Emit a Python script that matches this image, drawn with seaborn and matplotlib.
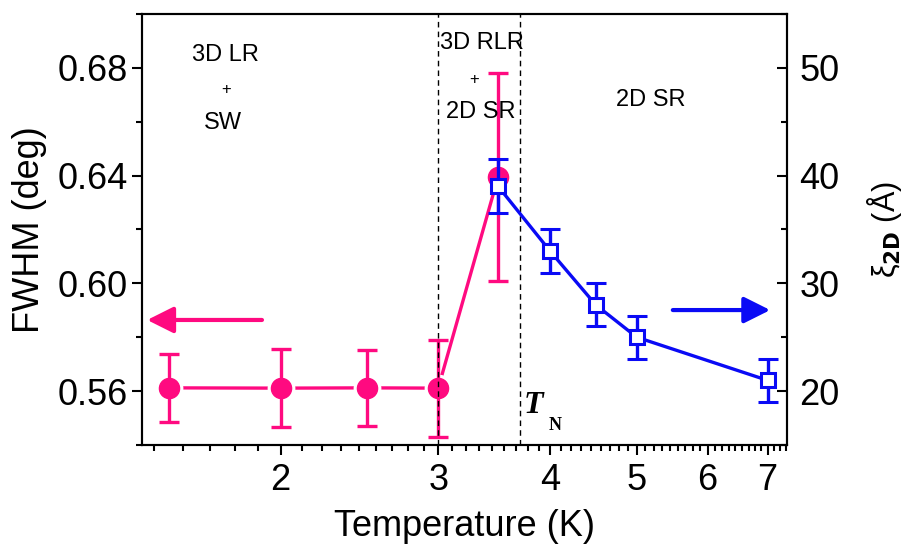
import numpy as np
import pandas as pd
import matplotlib
matplotlib.use("Agg")
import matplotlib.pyplot as plt
import seaborn as sns
from matplotlib.ticker import FixedLocator, FixedFormatter, NullFormatter, MultipleLocator, FormatStrFormatter

# ---- data ----
temp_fwhm = [1.5, 2.0, 2.5, 3.0, 3.5]
fwhm = [0.5612, 0.5611, 0.5612, 0.5611, 0.6395]
fwhm_err = [0.0125, 0.0145, 0.014, 0.018, 0.0385]

temp_xi = [3.5, 4.0, 4.5, 5.0, 7.0]
xi_2d = [39.0, 33.0, 28.0, 25.0, 21.0]
xi_err = [2.5, 2.0, 2.0, 2.0, 2.0]

x_major = [2, 3, 4, 5, 6, 7]
x_major_labels = ['2', '3', '4', '5', '6', '7']
region_lines = [3.0, 3.7]

pink = '#FF0A80'
blue = '#0A0AF5'

sns.set_style('ticks', {'axes.edgecolor': 'black', 'xtick.color': 'black', 'ytick.color': 'black',
                        'text.color': 'black', 'axes.labelcolor': 'black'})
plt.rcParams['font.family'] = ['Liberation Sans', 'DejaVu Sans']
plt.rcParams['axes.linewidth'] = 1.5

df_fwhm = pd.DataFrame({'T': temp_fwhm, 'FWHM': fwhm})
df_xi = pd.DataFrame({'T': temp_xi, 'xi': xi_2d})

fig = plt.figure(figsize=(9.15, 5.48), dpi=100)
ax = fig.add_axes([0.1552, 0.188, 0.7049, 0.7866])
ax.set_xscale('log')

# FWHM (left axis)
sns.lineplot(data=df_fwhm, x='T', y='FWHM', ax=ax, color=pink, lw=2.4, zorder=1)
ax.plot(temp_fwhm, fwhm, 'o', ms=19, color='white', zorder=2)
ax.errorbar(temp_fwhm, fwhm, yerr=fwhm_err, fmt='o', ms=14.5, color=pink, ecolor=pink,
            elinewidth=2.4, capsize=7, capthick=2.4, zorder=3)

for xv in region_lines:
    ax.axvline(xv, color='black', lw=1, ls=(0, (4, 3)), zorder=5)

ax.set_xlim(1.4, 7.36)
ax.set_ylim(0.54, 0.70)
ax.xaxis.set_major_locator(FixedLocator(x_major))
ax.xaxis.set_major_formatter(FixedFormatter(x_major_labels))
minor = [n + k / 9 for n in range(1, 8) for k in range(1, 9)]
ax.xaxis.set_minor_locator(FixedLocator(minor))
ax.xaxis.set_minor_formatter(NullFormatter())
ax.yaxis.set_major_locator(MultipleLocator(0.04))
ax.yaxis.set_minor_locator(MultipleLocator(0.02))
ax.yaxis.set_major_formatter(FormatStrFormatter('%.2f'))
ax.tick_params(axis='both', which='major', direction='out', length=7, width=1.5, labelsize=26, pad=3)
ax.tick_params(axis='both', which='minor', direction='out', length=4, width=1.5)
ax.tick_params(axis='x', which='major', pad=6)
ax.tick_params(top=False, right=False, which='both')
ax.set_xlabel('Temperature (K)', fontsize=26, labelpad=8)
ax.set_ylabel('FWHM (deg)', fontsize=26, labelpad=8)

# correlation length (right axis)
ax2 = ax.twinx()
sns.lineplot(data=df_xi, x='T', y='xi', ax=ax2, color=blue, lw=2.4, zorder=1)
ax2.errorbar(temp_xi, xi_2d, yerr=xi_err, fmt='s', ms=10, mfc='white', mec=blue, mew=2.2,
             color=blue, ecolor=blue, elinewidth=2.4, capsize=7, capthick=2.4, zorder=3)
ax2.set_ylim(15, 55)
ax2.yaxis.set_major_locator(MultipleLocator(10))
ax2.yaxis.set_minor_locator(MultipleLocator(5))
ax2.tick_params(axis='y', which='major', direction='in', length=7, width=1.5, labelsize=26, pad=9)
ax2.tick_params(axis='y', which='minor', direction='in', length=4, width=1.5)
ax2.set_ylabel(r'$\mathregular{\xi}_{\mathbf{2D}}$ (Å)', fontsize=22, labelpad=18)
ax2.set_xlim(1.4, 7.36)

# annotations
ax.text(0.129, 0.905, '3D LR', transform=ax.transAxes, fontsize=17, ha='center', va='center')
ax.text(0.130, 0.824, '+', transform=ax.transAxes, fontsize=12, ha='center', va='center')
ax.text(0.125, 0.748, 'SW', transform=ax.transAxes, fontsize=17, ha='center', va='center')
ax.text(0.527, 0.932, '3D RLR', transform=ax.transAxes, fontsize=17, ha='center', va='center')
ax.text(0.515, 0.849, '+', transform=ax.transAxes, fontsize=12, ha='center', va='center')
ax.text(0.525, 0.773, '2D SR', transform=ax.transAxes, fontsize=17, ha='center', va='center')
ax.text(0.788, 0.800, '2D SR', transform=ax.transAxes, fontsize=17, ha='center', va='center')
ax.text(0.5922, 0.074, 'T', transform=ax.transAxes, fontsize=23, family='Liberation Serif',
        style='italic', weight='bold', ha='left', va='baseline')
ax.text(0.631, 0.035, 'N', transform=ax.transAxes, fontsize=13, family='Liberation Serif',
        weight='bold', ha='left', va='baseline')

ax2.annotate('', xy=(0.008, 0.29), xytext=(0.186, 0.29), xycoords='axes fraction',
             arrowprops=dict(arrowstyle='-|>,head_length=0.8,head_width=0.4', color=pink, lw=3,
                             mutation_scale=20, shrinkA=0, shrinkB=0))
ax2.annotate('', xy=(0.974, 0.313), xytext=(0.823, 0.313), xycoords='axes fraction',
             arrowprops=dict(arrowstyle='-|>,head_length=0.8,head_width=0.4', color=blue, lw=3,
                             mutation_scale=20, shrinkA=0, shrinkB=0))

fig.savefig('out.png', dpi=100, facecolor='white')
